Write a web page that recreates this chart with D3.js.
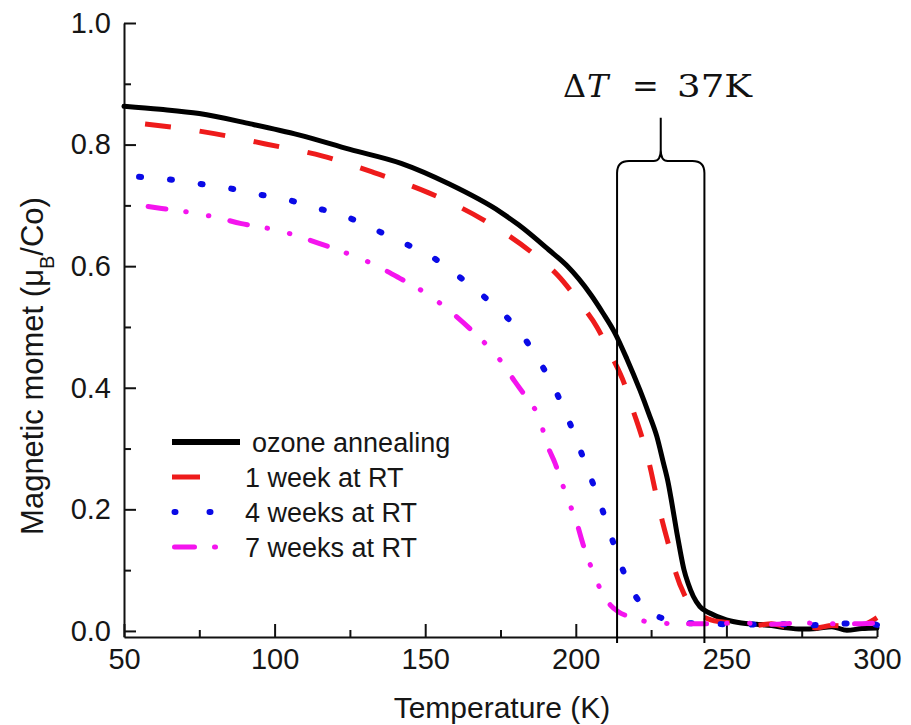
<!DOCTYPE html>
<html>
<head>
<meta charset="utf-8">
<script src="https://cdn.jsdelivr.net/npm/d3@7"></script>
<style>
    body { margin: 0; background: #fff; }
    svg { display: block; font-family: "Liberation Sans", Arial, sans-serif; }
    .axis path, .axis line { stroke: #111; stroke-width: 2; }
    .axis text { font-size: 29px; fill: #161616; font-family: "Liberation Sans", Arial, sans-serif; }
    .curve { fill: none; }
    .math { font-family: "DejaVu Serif", "Liberation Serif", serif; font-size: 32px; fill: #111; }
</style>
</head>
<body>
<svg id="chart" width="911" height="725"></svg>
<script>
// tick values
const xTicks = [50, 100, 150, 200, 250, 300];
const xMinorTicks = [75, 125, 175, 225, 275];
const yTicks = [0, 0.2, 0.4, 0.6, 0.8, 1.0];
const yMinorTicks = [0.1, 0.3, 0.5, 0.7, 0.9];

const seriesNames = ["ozone annealing", "1 week at RT", "4 weeks at RT", "7 weeks at RT"];

// [temperature K, moment muB/Co]
const ozoneAnnealing = [
    [50, 0.863], [62, 0.858], [75, 0.851], [92, 0.834], [108, 0.816], [125, 0.792],
    [142, 0.769], [158, 0.735], [175, 0.689], [181, 0.668], [191, 0.627], [197, 0.601],
    [201, 0.579], [205, 0.553], [209, 0.523], [213, 0.490], [217, 0.447], [221.3, 0.396],
    [224.2, 0.358], [226.9, 0.320], [229, 0.278], [230.7, 0.243], [231.9, 0.210], [233.5, 0.163],
    [234.6, 0.133], [235.9, 0.101], [237.3, 0.078], [239, 0.057], [241.2, 0.040],
    [244.6, 0.029], [250, 0.018], [255, 0.013], [260, 0.011], [265, 0.009], [270, 0.005],
    [275, 0.003], [280, 0.004], [285, 0.007], [290, 0.001], [295, 0.004], [300, 0.005]
];
const oneWeek = [
    [57, 0.834], [70, 0.826], [80, 0.818], [97, 0.801], [116, 0.781], [133, 0.754],
    [151, 0.721], [169, 0.677], [186, 0.620], [194, 0.585], [201, 0.542], [207, 0.500],
    [212, 0.451], [216, 0.408], [219, 0.363], [222, 0.318], [224.5, 0.273], [226.5, 0.228],
    [228.6, 0.183], [231, 0.138], [233.3, 0.094], [236, 0.060], [239, 0.038], [243, 0.022],
    [248, 0.015], [255, 0.012], [260, 0.009], [265, 0.012], [270, 0.007], [275, 0.010],
    [280, 0.005], [285, 0.009], [290, 0.008], [295, 0.010], [300, 0.022]
];
const fourWeeks = [
    [55, 0.747], [66, 0.742], [77, 0.734], [84, 0.729], [93.5, 0.719], [103, 0.711],
    [112, 0.698], [123, 0.683], [133, 0.661], [142, 0.640], [152, 0.616], [162, 0.580],
    [172, 0.539], [180.4, 0.498], [187.6, 0.446], [193.4, 0.394], [198, 0.342],
    [202.3, 0.287], [206.4, 0.233], [210.3, 0.178], [213.8, 0.125], [218.2, 0.071],
    [222, 0.043], [226.3, 0.026], [231, 0.018], [236.8, 0.013], [245, 0.012], [255, 0.010],
    [265, 0.012], [275, 0.009], [285, 0.011], [295, 0.013], [300, 0.010]
];
const sevenWeeks = [
    [58, 0.698], [62.5, 0.695], [72.5, 0.688], [80, 0.681], [89, 0.670], [99, 0.661],
    [105.4, 0.653], [114.5, 0.638], [124.6, 0.620], [132, 0.605], [141.6, 0.580],
    [151.6, 0.551], [158, 0.527], [167, 0.487], [174.8, 0.446], [179.8, 0.410],
    [183.7, 0.383], [188.1, 0.347], [190.3, 0.309], [193.1, 0.276], [197, 0.221],
    [200.3, 0.178], [202.5, 0.141], [206.4, 0.089], [209, 0.060], [211.4, 0.043],
    [214, 0.032], [217.4, 0.024], [222, 0.017], [226.8, 0.013], [235, 0.012], [245, 0.012],
    [255, 0.013], [265, 0.011], [275, 0.013], [285, 0.012], [295, 0.012], [300, 0.013]
];

// transition width marked on the plot
const deltaT = [213.7, 242.7];
const deltaLabel = ["\u0394", "T", "=", "37K"];

const svg = d3.select("#chart");

// Set up scales
const xScale = d3.scaleLinear().domain([50, 300]).range([124, 877]);
const yScale = d3.scaleLinear().domain([-0.01, 1.0]).range([637, 23]);

// Axes (ticks point inward)
svg.append("g")
    .attr("class", "axis")
    .attr("transform", "translate(0,637)")
    .call(d3.axisBottom(xScale).tickValues(xTicks).tickSizeInner(-13).tickSizeOuter(0).tickPadding(11));
svg.append("g")
    .attr("class", "axis")
    .attr("transform", "translate(0,637)")
    .call(d3.axisBottom(xScale).tickValues(xMinorTicks).tickSizeInner(-7).tickSizeOuter(0).tickFormat(""))
    .select(".domain").remove();
svg.append("g")
    .attr("class", "axis")
    .attr("transform", "translate(124,0)")
    .call(d3.axisLeft(yScale).tickValues(yTicks).tickSizeInner(-12).tickSizeOuter(0).tickPadding(13)
        .tickFormat(d3.format(".1f")));
svg.append("g")
    .attr("class", "axis")
    .attr("transform", "translate(124,0)")
    .call(d3.axisLeft(yScale).tickValues(yMinorTicks).tickSizeInner(-7).tickSizeOuter(0).tickFormat(""))
    .select(".domain").remove();

// Axis titles
svg.append("text")
    .attr("x", 502)
    .attr("y", 718)
    .attr("text-anchor", "middle")
    .style("font-size", "30px")
    .attr("fill", "#161616")
    .text("Temperature (K)");

const yTitle = svg.append("text")
    .attr("transform", "translate(43,366) rotate(-90)")
    .attr("text-anchor", "middle")
    .style("font-size", "31px")
    .attr("fill", "#161616");
yTitle.append("tspan").text("Magnetic momet (\u03bc");
yTitle.append("tspan").attr("baseline-shift", "sub").style("font-size", "20px").text("B");
yTitle.append("tspan").text("/Co)");

// Curves
const styles = [
    { color: "#000000", width: 5, dash: null, cap: "round", legendDash: null },
    { color: "#ee1b1b", width: 5, dash: "26 29", cap: "butt", legendDash: "28 200" },
    { color: "#0a0ae6", width: 6, dash: "2 29", cap: "round", legendDash: "1 34 1 200" },
    { color: "#f414ee", width: 5, dash: "18 20 0.5 22.5 0.5 21.5", cap: "round", legendDash: "20 20 1 200" }
];
const allSeries = [ozoneAnnealing, oneWeek, fourWeeks, sevenWeeks];

const line = d3.line()
    .x(function(d) { return xScale(d[0]); })
    .y(function(d) { return yScale(d[1]); })
    .curve(d3.curveMonotoneX);

allSeries.forEach(function(data, i) {
    svg.append("path")
        .datum(data)
        .attr("class", "curve")
        .attr("d", line)
        .attr("stroke", styles[i].color)
        .attr("stroke-width", styles[i].width)
        .attr("stroke-linecap", styles[i].cap)
        .attr("stroke-linejoin", "round")
        .attr("stroke-dasharray", styles[i].dash);
});

// Legend
const legendRows = [442, 477, 512, 547];
const legendTextX = [252, 245, 245, 245];
seriesNames.forEach(function(name, i) {
    const st = styles[i];
    const x0 = st.cap === "round" && st.legendDash ? 174.5 : 172;
    svg.append("line")
        .attr("x1", x0).attr("x2", 240)
        .attr("y1", legendRows[i]).attr("y2", legendRows[i])
        .attr("stroke", st.color)
        .attr("stroke-width", i === 0 ? 6 : st.width)
        .attr("stroke-linecap", i === 0 ? "butt" : st.cap)
        .attr("stroke-dasharray", st.legendDash);
    svg.append("text")
        .attr("x", legendTextX[i])
        .attr("y", legendRows[i] + 9.5)
        .style("font-size", "27px")
        .attr("fill", "#161616")
        .text(name);
});

// Delta T bracket
const xl = xScale(deltaT[0]);
const xr = xScale(deltaT[1]);
const xm = (xl + xr) / 2;
const yBottom = yScale(0) + 12;
const yBar = yScale(0.773);
const yTip = yScale(0.844);
const brace = d3.path();
brace.moveTo(xl, yBottom);
brace.lineTo(xl, yBar + 12);
brace.quadraticCurveTo(xl, yBar, xl + 12, yBar);
brace.lineTo(xm - 7, yBar);
brace.quadraticCurveTo(xm, yBar, xm, yBar - 11);
brace.lineTo(xm, yTip);
brace.moveTo(xm, yBar - 11);
brace.quadraticCurveTo(xm, yBar, xm + 7, yBar);
brace.lineTo(xr - 12, yBar);
brace.quadraticCurveTo(xr, yBar, xr, yBar + 12);
brace.lineTo(xr, yBottom);
svg.append("path")
    .attr("d", brace.toString())
    .attr("fill", "none")
    .attr("stroke", "#000")
    .attr("stroke-width", 2);

// label pieces: left edge of each glyph group, "37K" widened to the picture
const labelX = [563, 587, 632, 677];
deltaLabel.forEach(function(s, i) {
    const t = svg.append("text")
        .attr("class", "math")
        .attr("x", labelX[i])
        .attr("y", 97)
        .style("font-style", i === 1 ? "italic" : "normal")
        .text(s);
    if (i === 3) {
        t.attr("textLength", 75).attr("lengthAdjust", "spacingAndGlyphs");
    }
});
</script>
</body>
</html>
